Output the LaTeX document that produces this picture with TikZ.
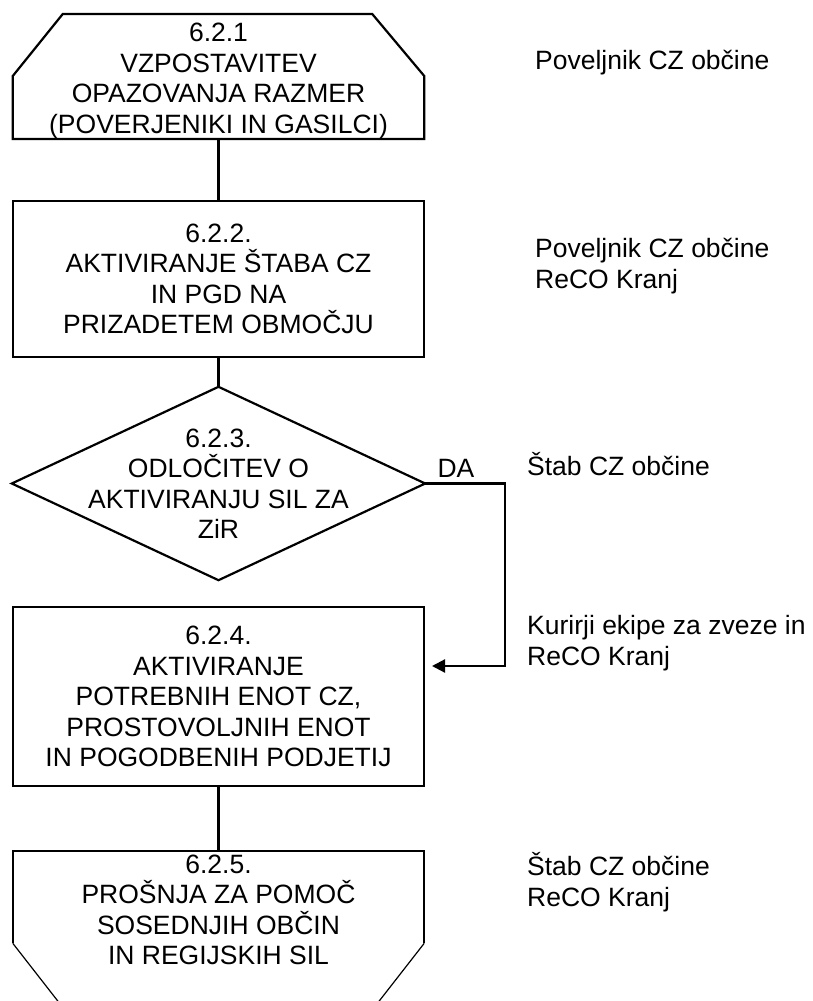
\documentclass[tikz,border=0pt]{standalone}
\usepackage{fontspec}
\setmainfont{Liberation Sans}
\usetikzlibrary{arrows.meta,calc}

\tikzset{
  txt/.style={align=center, inner sep=0pt, font=\fontsize{26.5}{30.5}\selectfont},
  box/.style={txt, draw, line width=2.2pt, minimum width=411pt},
  side/.style={anchor=base west, align=left, inner sep=0pt, font=\fontsize{26.5}{30.5}\selectfont},
  edge/.style={line width=2.2pt},
  thinedge/.style={line width=1.2pt},
  arr/.style={line width=2.2pt, -{Triangle[length=13pt,width=13pt]}},
}

\begin{document}
\begin{tikzpicture}[x=1pt, y=-1pt]
\useasboundingbox (0,0) rectangle (812,1001);

% steps
\node[txt, minimum width=411pt, minimum height=113pt] (s1) at (218.5,81)
  {6.2.1\\VZPOSTAVITEV\\OPAZOVANJA RAZMER\\(POVERJENIKI IN GASILCI)};
\node[box, minimum height=156pt] (s2) at (218.5,279)
  {6.2.2.\\AKTIVIRANJE ŠTABA CZ\\IN PGD NA\\PRIZADETEM OBMOČJU};
\node[txt, minimum width=413pt, minimum height=193pt] (s3) at (218.5,483.5)
  {6.2.3.\\ODLOČITEV O\\AKTIVIRANJU SIL ZA\\ZiR};
\node[box, minimum height=179pt] (s4) at (218.5,696.5)
  {6.2.4.\\AKTIVIRANJE\\POTREBNIH ENOT CZ,\\PROSTOVOLJNIH ENOT\\IN POGODBENIH PODJETIJ};
\node[txt, minimum width=411pt, minimum height=117pt] (s5) at (218.5,910)
  {6.2.5.\\PROŠNJA ZA POMOČ\\SOSEDNJIH OBČIN\\IN REGIJSKIH SIL};

% outlines
\draw[edge] ($(s1.south west)+(0,-63)$) -- ($(s1.south west)+(50,-125)$)
  -- ($(s1.south east)+(-52,-125)$) -- ($(s1.south east)+(0,-63)$)
  -- (s1.south east) -- (s1.south west) -- cycle;
\draw[edge] (s3.north) -- (s3.east) -- (s3.south) -- (s3.west) -- cycle;
\draw[edge] ($(s5.north west)+(0,92)$) -- (s5.north west) -- (s5.north east)
  -- ($(s5.north east)+(0,92)$);
\draw[thinedge] ($(s5.north west)+(0,92)$) -- ($(s5.north west)+(46,151)$);
\draw[thinedge] ($(s5.north east)+(0,92)$) -- ($(s5.north east)+(-46,151)$);

% connectors
\draw[edge] (s1.south) -- (s2.north);
\draw[edge] (s2.south) -- (s3.north);
\draw[edge] (s4.south) -- (s5.north);
\coordinate (bend) at (505,666);
\coordinate (tip) at (432,666);
\draw[arr] (s3.east) -| (bend) -- (tip);
\node[txt] (da) at (456,468) {DA};

% who
\node[side] (r1) at (535,69.5) {Poveljnik CZ občine};
\node[side] (r2) at (535,288) {Poveljnik CZ občine\\ReCO Kranj};
\node[side] (r3) at (527,475.5) {Štab CZ občine};
\node[side] (r4) at (527,665) {Kurirji ekipe za zveze in\\ReCO Kranj};
\node[side] (r5) at (527,906) {Štab CZ občine\\ReCO Kranj};
\end{tikzpicture}
\end{document}
